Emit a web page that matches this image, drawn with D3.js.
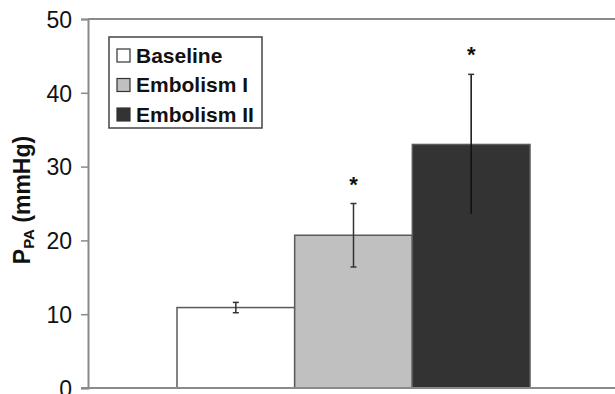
<!DOCTYPE html>
<html>
<head>
<meta charset="utf-8">
<script src="https://cdn.jsdelivr.net/npm/d3@7"></script>
<style>
  body { margin: 0; background: #fff; }
  svg { display: block; font-family: "Liberation Sans", Arial, sans-serif; }
</style>
</head>
<body>
<div id="chart"></div>
<script>
const width = 615;
const height = 394;

// data
const groups = ['Baseline', 'Embolism I', 'Embolism II'];
const means = [10.9, 20.7, 33.0];
const errors = [0.7, 4.3, 9.5];
const significant = [false, true, true];
const fills = ['#ffffff', '#c0c0c0', '#333333'];
const yTicks = [0, 10, 20, 30, 40, 50];

const svg = d3.select('#chart')
  .append('svg')
  .attr('width', width)
  .attr('height', height);

const y = d3.scaleLinear()
  .domain([0, 50])
  .range([388, 19]);

const x = d3.scaleBand()
  .domain(groups)
  .range([177, 530])
  .padding(0);

const color = d3.scaleOrdinal().domain(groups).range(fills);

// top frame line
svg.append('line')
  .attr('x1', 88).attr('x2', width)
  .attr('y1', y(50)).attr('y2', y(50))
  .attr('stroke', '#8a8a8a')
  .attr('stroke-width', 2);

// Y axis
const yAxis = d3.axisLeft(y)
  .tickValues(yTicks)
  .tickSize(7)
  .tickPadding(9);

const yG = svg.append('g')
  .attr('transform', 'translate(88,0)')
  .call(yAxis);
yG.select('.domain').attr('stroke', '#8a8a8a').attr('stroke-width', 2);
yG.selectAll('.tick line').attr('stroke', '#8a8a8a').attr('stroke-width', 1.5);
yG.selectAll('.tick text')
  .attr('fill', '#111')
  .style('font-size', '23px')
  .attr('dy', '0.36em');

// bars
svg.selectAll('.bar')
  .data(groups)
  .enter()
  .append('rect')
  .attr('class', 'bar')
  .attr('x', d => x(d))
  .attr('width', x.bandwidth())
  .attr('y', (d, i) => y(means[i]))
  .attr('height', (d, i) => y(0) - y(means[i]))
  .attr('fill', d => color(d))
  .attr('stroke', '#5a5a5a')
  .attr('stroke-width', 1.5);

// bottom axis line
svg.append('line')
  .attr('x1', 81).attr('x2', width)
  .attr('y1', y(0)).attr('y2', y(0))
  .attr('stroke', '#8a8a8a')
  .attr('stroke-width', 2);

// error bars
const err = svg.selectAll('.err')
  .data(groups)
  .enter()
  .append('g')
  .attr('class', 'err')
  .attr('transform', d => `translate(${x(d) + x.bandwidth() / 2},0)`);

err.append('line')
  .attr('y1', (d, i) => y(means[i] + errors[i]))
  .attr('y2', (d, i) => y(means[i] - errors[i]))
  .attr('stroke', (d, i) => i === 2 ? '#111' : '#333')
  .attr('stroke-width', 1.5);

err.selectAll('.cap')
  .data((d, i) => [means[i] + errors[i], means[i] - errors[i]])
  .enter()
  .append('line')
  .attr('x1', -3).attr('x2', 3)
  .attr('y1', v => y(v)).attr('y2', v => y(v))
  .attr('stroke', '#333')
  .attr('stroke-width', 1.5);

// significance stars
svg.selectAll('.star')
  .data(groups.filter((d, i) => significant[i]))
  .enter()
  .append('text')
  .attr('class', 'star')
  .attr('x', d => x(d) + x.bandwidth() / 2)
  .attr('y', d => {
    const i = groups.indexOf(d);
    return y(means[i] + errors[i]) - 12;
  })
  .attr('text-anchor', 'middle')
  .style('font-size', '22px')
  .style('font-weight', 'bold')
  .attr('fill', '#111')
  .text('*');

// Y label
const yLabel = svg.append('text')
  .attr('transform', 'translate(30,200) rotate(-90)')
  .attr('text-anchor', 'middle')
  .style('font-size', '23px')
  .style('font-weight', 'bold')
  .attr('fill', '#111');
yLabel.append('tspan').text('P');
yLabel.append('tspan').text('PA').style('font-size', '15px').attr('dy', '4');
yLabel.append('tspan').text(' (mmHg)').attr('dy', '-4');

// legend
const legend = svg.append('g')
  .attr('transform', 'translate(109,37)');

legend.append('rect')
  .attr('width', 153)
  .attr('height', 91)
  .attr('fill', '#fff')
  .attr('stroke', '#444')
  .attr('stroke-width', 1.5);

const item = legend.selectAll('.item')
  .data(groups)
  .enter()
  .append('g')
  .attr('class', 'item')
  .attr('transform', (d, i) => `translate(0,${18 + i * 29.5})`);

item.append('rect')
  .attr('x', 8)
  .attr('y', -6)
  .attr('width', 13)
  .attr('height', 13)
  .attr('fill', d => color(d))
  .attr('stroke', '#333')
  .attr('stroke-width', 1.2);

item.append('text')
  .attr('x', 27)
  .attr('y', 0)
  .attr('dy', '0.36em')
  .style('font-size', '21px')
  .style('font-weight', 'bold')
  .attr('fill', '#111')
  .text(d => d);
</script>
</body>
</html>
